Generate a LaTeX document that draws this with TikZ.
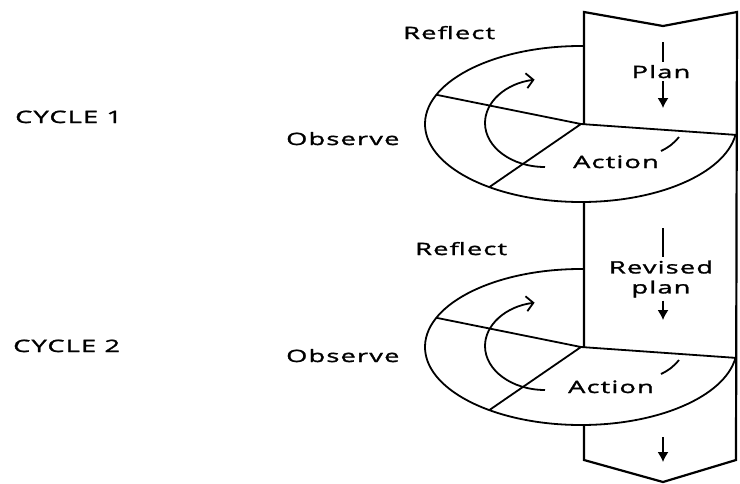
\documentclass[tikz,border=0pt]{standalone}
\usepackage{fontspec}
\setmainfont{Open Sans}[FakeStretch=1.6,LetterSpace=7,FakeBold=1.6]
\usetikzlibrary{arrows.meta}

\begin{document}
\begin{tikzpicture}[x=1pt, y=-1pt,
    lbl/.style={font=\fontsize{17}{20}\selectfont, inner sep=0pt},
    band/.style={line width=2.2pt, line join=miter},
    wheel/.style={line width=1.8pt},
    stem/.style={line width=1.3pt},
    flow/.style={line width=1.3pt, -{Latex[length=10pt,width=11pt]}},
    turn/.style={line width=1.8pt, -{Straight Barb[length=7pt,width=15pt]}}]
  \useasboundingbox (0,0) rectangle (740,483);

  % the plan band, running down through both cycles
  \draw[band, fill=white] (584,12) -- (663,26) -- (737,12) -- (736,460)
    -- (663,482) -- (584,460) -- cycle;

  % one wheel for each cycle
  \foreach \n/\dy in {1/0, 2/223} {
    \coordinate (hub\n) at (581,124+\dy);
    \fill[white] (hub\n) -- ++(-8:156pt and 78pt)
      arc[start angle=-8, end angle=-100, x radius=156pt, y radius=78pt] -- cycle;
    \draw[wheel] (hub\n) ++(89:156pt and 78pt)
      arc[start angle=89, end angle=352, x radius=156pt, y radius=78pt] -- (hub\n)
      -- ++(158:156pt and 78pt)
      (hub\n) -- ++(234:156pt and 78pt);
    \draw[turn] (545,167+\dy)
      arc[start angle=270, end angle=100, x radius=60pt, y radius=44pt];
    \draw[wheel] (661,151+\dy) to[bend right=12] (679,137+\dy);
  }

  % labels
  \node[lbl, anchor=base west] (cyc1) at (15,123) {CYCLE 1};
  \node[lbl, anchor=base west] (cyc2) at (13,352) {CYCLE 2};
  \node[lbl, anchor=base west] (refl1) at (403,39) {Reflect};
  \node[lbl, anchor=base west] (refl2) at (415,255) {Reflect};
  \node[lbl, anchor=base west] (obs1) at (286,145) {Observe};
  \node[lbl, anchor=base west] (obs2) at (286,362) {Observe};
  \node[lbl, anchor=base] (act1) at (616,168) {Action};
  \node[lbl, anchor=base] (act2) at (611,393) {Action};
  \node[lbl, anchor=base, inner sep=3pt] (plan) at (661,78) {Plan};
  \node[lbl, align=center, inner sep=3pt] (rplan) at (661,279) {Revised\\plan};

  % flow down the band
  \coordinate (in1) at (663,42);
  \coordinate (in2) at (663,228);
  \coordinate (in3) at (663,437);
  \coordinate (out1) at (663,108);
  \coordinate (out2) at (663,320);
  \coordinate (out3) at (663,462);
  \draw[stem] (in1) -- (in1 |- plan.north);
  \draw[flow] (in1 |- plan.south) -- (out1);
  \draw[stem] (in2) -- (in2 |- rplan.north);
  \draw[flow] (in2 |- rplan.south) -- (out2);
  \draw[flow] (in3) -- (out3);
\end{tikzpicture}
\end{document}
